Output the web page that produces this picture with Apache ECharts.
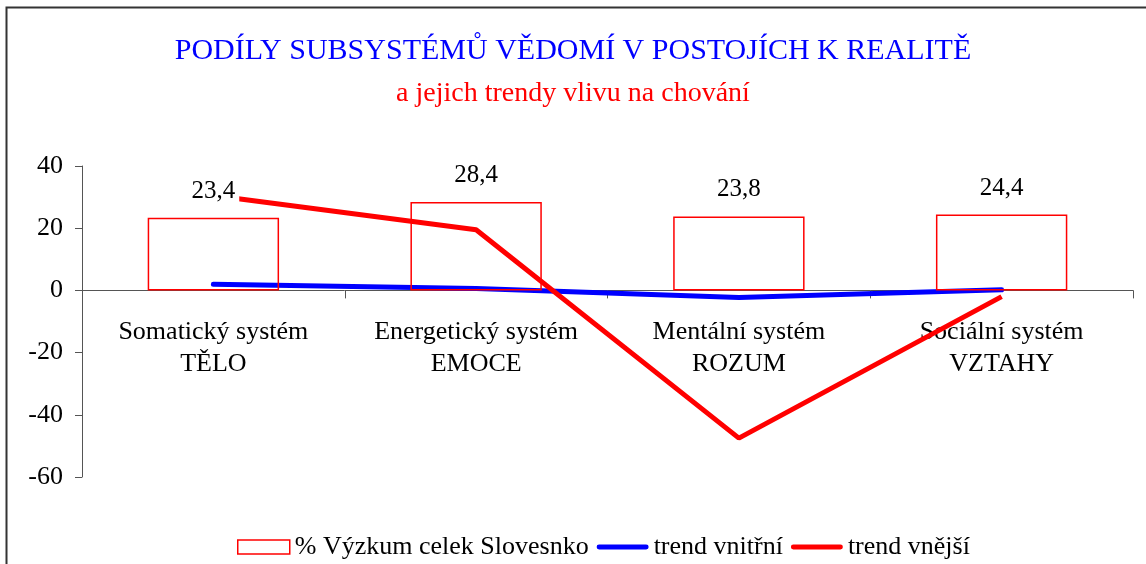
<!DOCTYPE html>
<html>
<head>
<meta charset="utf-8">
<script src="https://cdn.jsdelivr.net/npm/echarts@6/dist/echarts.min.js"></script>
<style>
  html, body { margin: 0; padding: 0; background: #fff; }
  #chart { width: 1146px; height: 564px; }
</style>
</head>
<body>
<div id="chart"></div>
<script>
// data
const categories = [
  'Somatický systém\nTĚLO',
  'Energetický systém\nEMOCE',
  'Mentální systém\nROZUM',
  'Sociální systém\nVZTAHY'
]
const survey = [23.4, 28.4, 23.8, 24.4]
const trendInner = [2, 0.6, -2.3, 0.2]
const trendOuter = [30.5, 19.5, -47.5, -2]
const yTicks = { min: -60, max: 40, interval: 20 }

const serif = '"Liberation Serif", "DejaVu Serif", serif'

// grid geometry: top 166, bottom 477 -> zero line sits 186px above the bottom
const gridTop = 166
const gridHeight = 311
const zeroOffset = -gridHeight * (0 - yTicks.min) / (yTicks.max - yTicks.min)

// thick line legend icon, padded to the full 52x14 item box
const lineIcon = 'path://M0,0L0,0M52,14L52,14M2,4.5L50,4.5A2.5,2.5,0,0,1,50,9.5L2,9.5A2.5,2.5,0,0,1,2,4.5Z'

const chart = echarts.init(document.getElementById('chart'))
chart.setOption({
  animation: false,
  backgroundColor: '#fff',
  textStyle: { fontFamily: serif },
  graphic: [{
    type: 'rect',
    shape: { x: 6.5, y: 7.5, width: 1200, height: 600 },
    style: { fill: 'none', stroke: '#333', lineWidth: 2 },
    silent: true
  }],
  title: [
    {
      text: 'PODÍLY SUBSYSTÉMŮ VĚDOMÍ V POSTOJÍCH K REALITĚ',
      left: 'center',
      top: 31,
      textStyle: { color: '#0000ff', fontSize: 30, fontWeight: 'normal', fontFamily: serif }
    },
    {
      text: 'a jejich trendy vlivu na chování',
      left: 'center',
      top: 75,
      textStyle: { color: '#ff0000', fontSize: 28, fontWeight: 'normal', fontFamily: serif }
    }
  ],
  legend: {
    left: 232,
    top: 529,
    itemGap: 8,
    itemWidth: 52,
    itemHeight: 14,
    textStyle: { fontSize: 26, color: '#000', fontFamily: serif },
    data: [
      { name: '% Výzkum celek Slovesnko', icon: 'rect',
        itemStyle: { color: '#fff', borderColor: '#ff0000', borderWidth: 1.5 } },
      { name: 'trend vnitřní', icon: lineIcon, itemStyle: { color: '#0000ff', borderWidth: 0 } },
      { name: 'trend vnější', icon: lineIcon, itemStyle: { color: '#ff0000', borderWidth: 0 } }
    ]
  },
  grid: { left: 82, right: 13, top: gridTop, height: gridHeight, containLabel: false },
  xAxis: {
    type: 'category',
    data: categories,
    boundaryGap: true,
    position: 'bottom',
    offset: zeroOffset,
    axisLine: { onZero: false, lineStyle: { color: '#555', width: 1 } },
    axisTick: { show: true, interval: 0, length: 8, lineStyle: { color: '#555' } },
    axisLabel: { interval: 0, color: '#000', fontSize: 26, lineHeight: 32, margin: 26, fontFamily: serif }
  },
  yAxis: {
    type: 'value',
    min: yTicks.min,
    max: yTicks.max,
    interval: yTicks.interval,
    splitLine: { show: false },
    axisLine: { show: true, lineStyle: { color: '#555', width: 1 } },
    axisTick: { show: true, length: 7, lineStyle: { color: '#555' } },
    axisLabel: { color: '#000', fontSize: 26, margin: 19, fontFamily: serif }
  },
  series: [
    {
      name: '% Výzkum celek Slovesnko',
      type: 'bar',
      data: survey,
      barWidth: '50%',
      z: 3,
      itemStyle: { color: 'rgba(255,255,255,0)', borderColor: '#ff0000', borderWidth: 1.5 },
      label: {
        show: true,
        position: 'top',
        distance: 12,
        color: '#000',
        fontSize: 25,
        fontFamily: serif,
        backgroundColor: '#fff',
        padding: [2, 4],
        formatter: p => String(p.value).replace('.', ',')
      }
    },
    {
      name: 'trend vnitřní',
      type: 'line',
      data: trendInner,
      z: 2,
      symbol: 'none',
      lineStyle: { color: '#0000ff', width: 5, cap: 'round' },
      itemStyle: { color: '#0000ff' }
    },
    {
      name: 'trend vnější',
      type: 'line',
      data: trendOuter,
      z: 2,
      symbol: 'none',
      lineStyle: { color: '#ff0000', width: 5 },
      itemStyle: { color: '#ff0000' }
    }
  ]
})
</script>
</body>
</html>
